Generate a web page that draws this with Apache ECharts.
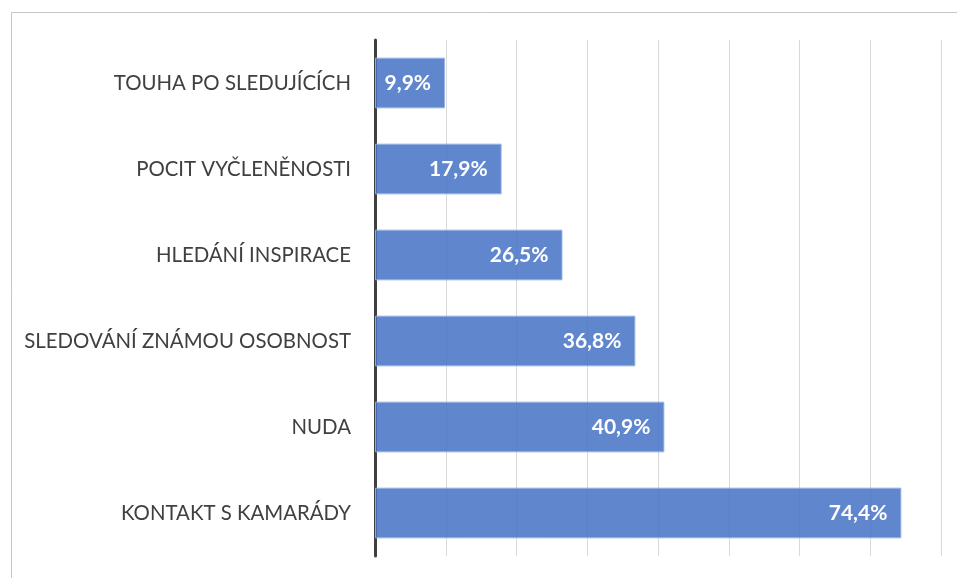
<!DOCTYPE html>
<html>
<head>
<meta charset="utf-8">
<script src="https://cdn.jsdelivr.net/npm/echarts@6/dist/echarts.min.js"></script>
<style>
  html, body { margin: 0; padding: 0; background: #fff; }
  #chart1 { width: 957px; height: 578px; }
</style>
</head>
<body>
<div id="chart1"></div>
<script>
// bottom to top, as ECharts draws a category y axis
const categories = ['KONTAKT S KAMARÁDY', 'NUDA', 'SLEDOVÁNÍ ZNÁMOU OSOBNOST', 'HLEDÁNÍ INSPIRACE', 'POCIT VYČLENĚNOSTI', 'TOUHA PO SLEDUJÍCÍCH'];
const values = [74.4, 40.9, 36.8, 26.5, 17.9, 9.9];

const getOptionChart1 = () => {
    return {
        animation: false,
        graphic: [
          {
            type: 'rect',
            left: 9,
            top: 10,
            shape: { width: 1000, height: 600 },
            style: { fill: 'none', stroke: '#c6c6c6', lineWidth: 1 },
            z: -1
          }
        ],
        grid: {
          left: 375,
          right: 16,
          top: 40,
          bottom: 22
        },
        xAxis: {
          type: 'value',
          min: 0,
          max: 80,
          interval: 10,
          axisLabel: { show: false },
          axisLine: { show: false },
          axisTick: { show: false },
          splitLine: { lineStyle: { color: '#d9d9d9', width: 1 } }
        },
        yAxis: {
          type: 'category',
          data: categories,
          axisLine: { lineStyle: { color: '#404040', width: 3 } },
          axisTick: { show: false },
          axisLabel: {
            margin: 24,
            color: '#404040',
            fontFamily: 'Lato',
            fontSize: 20.4
          }
        },
        series: [
          {
            type: 'bar',
            data: values,
            barCategoryGap: '41%',
            itemStyle: {
              color: 'rgba(68,114,196,0.85)',
              borderColor: 'rgba(150,180,230,0.9)',
              borderWidth: 1
            },
            label: {
              show: true,
              position: 'insideRight',
              distance: 14,
              color: '#fff',
              fontFamily: 'Lato',
              fontWeight: 'bold',
              fontSize: 21,
              formatter: p => p.value.toFixed(1).replace('.', ',') + '%'
            }
          }
        ]
    };
}

const initCharts = () => {
    const chart1 = echarts.init(document.getElementById('chart1'));
    chart1.setOption(getOptionChart1());
}

window.addEventListener('load', () => {
    initCharts();
});
</script>
</body>
</html>
